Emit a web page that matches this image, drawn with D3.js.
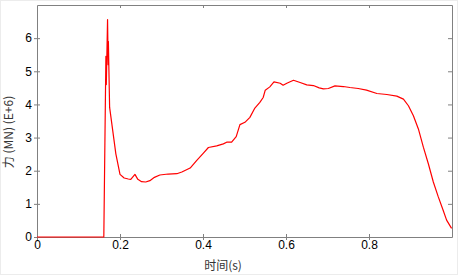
<!DOCTYPE html>
<html>
<head>
<meta charset="utf-8">
<script src="https://cdn.jsdelivr.net/npm/d3@7"></script>
<style>
  body { margin: 0; background: #fff; }
  svg { display: block; font-family: "Liberation Sans", Arial, sans-serif; }
  .axis path, .axis line { stroke: #808080; }
  .axis text { fill: #000; font-size: 12px; font-family: "Liberation Sans", Arial, sans-serif; }
</style>
</head>
<body>
<svg id="chart" width="458" height="275"></svg>
<script>
// time (s) and force (MN, E+6)
const times = [0, 0.161, 0.166, 0.167, 0.170, 0.1715, 0.172, 0.175, 0.190, 0.200, 0.210, 0.220, 0.226,
  0.236, 0.243, 0.252, 0.262, 0.272, 0.283, 0.296, 0.316, 0.337, 0.349, 0.369, 0.385, 0.401,
  0.413, 0.433, 0.449, 0.457, 0.469, 0.480, 0.489, 0.501, 0.513, 0.525, 0.537, 0.545, 0.550,
  0.561, 0.571, 0.586, 0.593, 0.602, 0.618, 0.634, 0.650, 0.666, 0.680, 0.690, 0.702, 0.718,
  0.738, 0.754, 0.774, 0.794, 0.819, 0.843, 0.867, 0.883, 0.895, 0.907, 0.919, 0.931, 0.943,
  0.955, 0.967, 0.978, 0.987, 0.999];
const force = [0, 0, 5.45, 4.6, 6.56, 5.2, 5.9, 3.91, 2.51, 1.89, 1.78, 1.75, 1.74,
  1.89, 1.74, 1.67, 1.66, 1.70, 1.80, 1.87, 1.90, 1.91, 1.96, 2.08, 2.31, 2.53,
  2.70, 2.75, 2.81, 2.86, 2.86, 3.03, 3.39, 3.46, 3.61, 3.89, 4.06, 4.21, 4.43,
  4.53, 4.68, 4.64, 4.58, 4.64, 4.73, 4.66, 4.59, 4.57, 4.50, 4.47, 4.48, 4.56,
  4.54, 4.51, 4.48, 4.43, 4.33, 4.30, 4.25, 4.16, 3.96, 3.66, 3.26, 2.71, 2.21,
  1.66, 1.21, 0.83, 0.51, 0.26];
const xTicks = [0, 0.2, 0.4, 0.6, 0.8];
const yTicks = [0, 1, 2, 3, 4, 5, 6];
const xLabel = "时间(s)";
const yLabel = "力 (MN) (E+6)";

const svg = d3.select("#chart");
const margin = {top: 5, right: 6, bottom: 38, left: 37};
const width = 458 - margin.left - margin.right;
const height = 275 - margin.top - margin.bottom;
const g = svg.append("g").attr("transform", `translate(${margin.left},${margin.top})`);

const x = d3.scaleLinear().domain([0, 1]).range([0, width]);
const y = d3.scaleLinear().domain([0, 7]).range([height, 0]);

// faint frame round the picture
svg.append("rect")
  .attr("x", 0.5).attr("y", 0.5).attr("width", 457).attr("height", 274)
  .attr("fill", "none").attr("stroke", "#ececec");

// box: top and right with inward ticks, no labels
g.append("g").attr("class", "axis")
  .call(d3.axisTop(x).tickValues(xTicks.slice(1)).tickSizeInner(-3).tickSizeOuter(0).tickFormat(""));
g.append("g").attr("class", "axis")
  .attr("transform", `translate(${width},0)`)
  .call(d3.axisRight(y).tickValues(yTicks.slice(1)).tickSizeInner(-4).tickSizeOuter(0).tickFormat(""));

const xAxis = g.append("g").attr("class", "axis")
  .attr("transform", `translate(0,${height})`)
  .call(d3.axisBottom(x).tickValues(xTicks).tickSizeOuter(0).tickFormat(d3.format("")));
xAxis.selectAll(".tick line").attr("y1", -3).attr("y2", 3);
xAxis.selectAll(".tick text").attr("y", 3);

const yAxis = g.append("g").attr("class", "axis")
  .call(d3.axisLeft(y).tickValues(yTicks).tickSizeOuter(0).tickFormat(d3.format("d")));
yAxis.selectAll(".tick line").attr("x1", 3).attr("x2", -3);
yAxis.selectAll(".tick text").attr("x", -5);

const line = d3.line()
  .x((d, i) => x(times[i]))
  .y(d => y(d));

g.append("path")
  .datum(force)
  .attr("fill", "none")
  .attr("stroke", "#ff0000")
  .attr("stroke-width", 1.2)
  .attr("stroke-linejoin", "round")
  .attr("d", line);

svg.append("text")
  .attr("x", 223).attr("y", 270)
  .attr("text-anchor", "middle")
  .attr("font-family", "'Noto Sans CJK SC', 'Liberation Sans', sans-serif")
  .attr("font-size", 12)
  .attr("fill", "#333")
  .text(xLabel);

svg.append("text")
  .attr("transform", "translate(13,132) rotate(-90)")
  .attr("text-anchor", "middle")
  .attr("font-family", "'Noto Sans CJK SC', 'Liberation Sans', sans-serif")
  .attr("font-size", 12)
  .attr("fill", "#333")
  .text(yLabel);
</script>
</body>
</html>
